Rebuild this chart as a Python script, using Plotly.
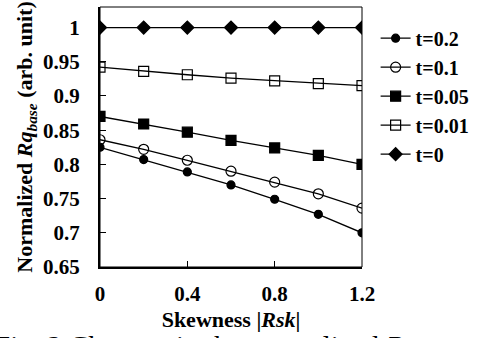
import plotly.graph_objects as go

x_vals = [0, 0.2, 0.4, 0.6, 0.8, 1.0, 1.2]
t_02 = [0.825, 0.807, 0.789, 0.770, 0.749, 0.727, 0.700]
t_01 = [0.836, 0.822, 0.806, 0.790, 0.774, 0.757, 0.736]
t_005 = [0.870, 0.859, 0.847, 0.835, 0.824, 0.813, 0.800]
t_001 = [0.942, 0.936, 0.931, 0.926, 0.922, 0.918, 0.915]
t_0 = [1.0, 1.0, 1.0, 1.0, 1.0, 1.0, 1.0]

names = ["t=0.2", "t=0.1", "t=0.05", "t=0.01", "t=0"]
series = [t_02, t_01, t_005, t_001, t_0]
symbols = ["circle", "circle-open", "square", "square-open", "diamond"]
sizes = [8, 10, 10, 10, 10]

x_ticks = [0, 0.4, 0.8, 1.2]
x_tick_text = ["0", "0.4", "0.8", "1.2"]
y_ticks = [0.65, 0.7, 0.75, 0.8, 0.85, 0.9, 0.95, 1]
y_tick_text = ["0.65", "0.7", "0.75", "0.8", "0.85", "0.9", "0.95", "1"]

FONT = "Liberation Serif"

fig = go.Figure()
for name, ys, sym, sz in zip(names, series, symbols, sizes):
    fig.add_trace(go.Scatter(
        x=x_vals, y=ys, name=name, mode="lines+markers",
        line=dict(color="black", width=1.3),
        marker=dict(symbol=sym, size=sz, color="black",
                    line=dict(color="black", width=1.2)),
    ))

fig.update_layout(
    width=481, height=338,
    margin=dict(l=100, r=118, t=7, b=71),
    paper_bgcolor="white", plot_bgcolor="white",
    font=dict(family=FONT, size=20, color="black"),
    showlegend=True,
    legend=dict(x=1.048, y=0.955, xanchor="left", yanchor="top",
                font=dict(family=FONT, size=20, color="black", weight="bold"),
                bgcolor="rgba(0,0,0,0)", tracegroupgap=0,
                itemwidth=30),
    xaxis=dict(range=[0, 1.2], tickvals=x_ticks, ticktext=x_tick_text,
               ticks="inside", ticklen=6, tickwidth=1, tickcolor="black",
               showline=True, linecolor="black", linewidth=2, showgrid=False,
               zeroline=False, ticklabelstandoff=7, automargin=False,
               tickfont=dict(family=FONT, size=21, color="black", weight="bold"),
               title=dict(text="<b>Skewness |<i>Rsk</i>|</b>", standoff=6,
                          font=dict(family=FONT, size=22, color="black"))),
    yaxis=dict(range=[0.65, 1.03], tickvals=y_ticks, ticktext=y_tick_text,
               ticks="inside", ticklen=6, tickwidth=1, tickcolor="black",
               showline=True, linecolor="black", linewidth=2, showgrid=False,
               zeroline=False, ticklabelstandoff=14, automargin=False,
               tickfont=dict(family=FONT, size=21, color="black", weight="bold"),
               title=dict(text="<b>Normalized <i>Rq<sub>base</sub></i> (arb. unit)</b>",
                          standoff=4,
                          font=dict(family=FONT, size=22, color="black"))),
    shapes=[dict(type="rect", xref="paper", yref="paper", x0=0, x1=1, y0=0, y1=1,
                 line=dict(color="black", width=1), layer="above")],
    annotations=[dict(text="Fig. 2 Changes in the normalized <i>Rq</i><sub><i>base</i></sub>",
                      xref="paper", yref="paper", x=-0.411, y=-0.236,
                      xanchor="left", yanchor="top", showarrow=False,
                      font=dict(family=FONT, size=29, color="black"))],
)

fig.write_html("out.html", config={"displayModeBar": False},
               post_script="document.body.style.margin='0';document.body.style.overflow='hidden';")
